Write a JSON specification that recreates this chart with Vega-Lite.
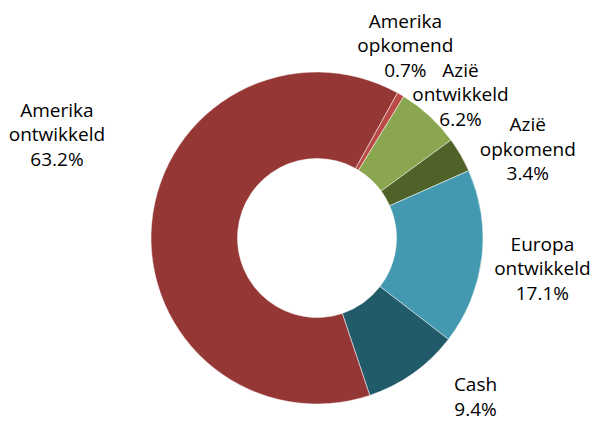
{
  "$schema": "https://vega.github.io/schema/vega-lite/v6.json",
  "width": 400,
  "height": 366,
  "autosize": {"type": "none"},
  "padding": {"left": 117, "top": 55, "right": 79, "bottom": 0},
  "background": "white",
  "config": {"view": {"stroke": null}},
  "data": {
    "values": [
      {"category": "Amerika opkomend", "share": 0.7, "order": 1},
      {"category": "Azië ontwikkeld", "share": 6.2, "order": 2},
      {"category": "Azië opkomend", "share": 3.4, "order": 3},
      {"category": "Europa ontwikkeld", "share": 17.1, "order": 4},
      {"category": "Cash", "share": 9.4, "order": 5},
      {"category": "Amerika ontwikkeld", "share": 63.2, "order": 6}
    ]
  },
  "transform": [
    {"stack": "share", "groupby": [], "sort": [{"field": "order"}], "as": ["s0", "s1"]},
    {"calculate": "(datum.s0 + datum.s1) / 2", "as": "mid"},
    {"calculate": "replace(datum.category, ' ', '\\n') + '\\n' + format(datum.share, '.1f') + '%'", "as": "label"}
  ],
  "layer": [
    {
      "mark": {"type": "arc", "outerRadius": 166, "innerRadius": 79.5, "stroke": "#ffffff", "strokeWidth": 0.5},
      "encoding": {
        "theta": {"field": "s0", "type": "quantitative", "scale": {"domain": [0, 100], "range": [0.506, 6.789]}},
        "theta2": {"field": "s1"},
        "color": {
          "field": "category",
          "type": "nominal",
          "legend": null,
          "scale": {
            "domain": ["Amerika opkomend", "Azië ontwikkeld", "Azië opkomend", "Europa ontwikkeld", "Cash", "Amerika ontwikkeld"],
            "range": ["#bb4a47", "#8aa64f", "#4f6228", "#4399b0", "#215a69", "#953735"]
          }
        }
      }
    },
    {
      "transform": [{"filter": "datum.category == 'Amerika opkomend'"}],
      "mark": {"type": "text", "radius": 225, "dx": -25, "dy": -22, "lineBreak": "\n", "font": "Open Sans", "fontSize": 19, "lineHeight": 24.5, "align": "center", "baseline": "middle", "color": "#000000"},
      "encoding": {"theta": {"field": "mid", "type": "quantitative"}, "text": {"field": "label"}}
    },
    {
      "transform": [{"filter": "datum.category == 'Azië ontwikkeld'"}],
      "mark": {"type": "text", "radius": 225, "dx": -9, "dy": -2, "lineBreak": "\n", "font": "Open Sans", "fontSize": 19, "lineHeight": 24.5, "align": "center", "baseline": "middle", "color": "#000000"},
      "encoding": {"theta": {"field": "mid", "type": "quantitative"}, "text": {"field": "label"}}
    },
    {
      "transform": [{"filter": "datum.category == 'Azië opkomend'"}],
      "mark": {"type": "text", "radius": 225, "dx": 16, "dy": 0, "lineBreak": "\n", "font": "Open Sans", "fontSize": 19, "lineHeight": 24.5, "align": "center", "baseline": "middle", "color": "#000000"},
      "encoding": {"theta": {"field": "mid", "type": "quantitative"}, "text": {"field": "label"}}
    },
    {
      "transform": [{"filter": "datum.category == 'Europa ontwikkeld'"}],
      "mark": {"type": "text", "radius": 225, "dx": 2, "dy": -20, "lineBreak": "\n", "font": "Open Sans", "fontSize": 19, "lineHeight": 24.5, "align": "center", "baseline": "middle", "color": "#000000"},
      "encoding": {"theta": {"field": "mid", "type": "quantitative"}, "text": {"field": "label"}}
    },
    {
      "transform": [{"filter": "datum.category == 'Cash'"}],
      "mark": {"type": "text", "radius": 225, "dx": 28, "dy": -36, "lineBreak": "\n", "font": "Open Sans", "fontSize": 19, "lineHeight": 24.5, "align": "center", "baseline": "middle", "color": "#000000"},
      "encoding": {"theta": {"field": "mid", "type": "quantitative"}, "text": {"field": "label"}}
    },
    {
      "transform": [{"filter": "datum.category == 'Amerika ontwikkeld'"}],
      "mark": {"type": "text", "radius": 225, "dx": -36, "dy": -107, "lineBreak": "\n", "font": "Open Sans", "fontSize": 19, "lineHeight": 24.5, "align": "center", "baseline": "middle", "color": "#000000"},
      "encoding": {"theta": {"field": "mid", "type": "quantitative"}, "text": {"field": "label"}}
    }
  ]
}
